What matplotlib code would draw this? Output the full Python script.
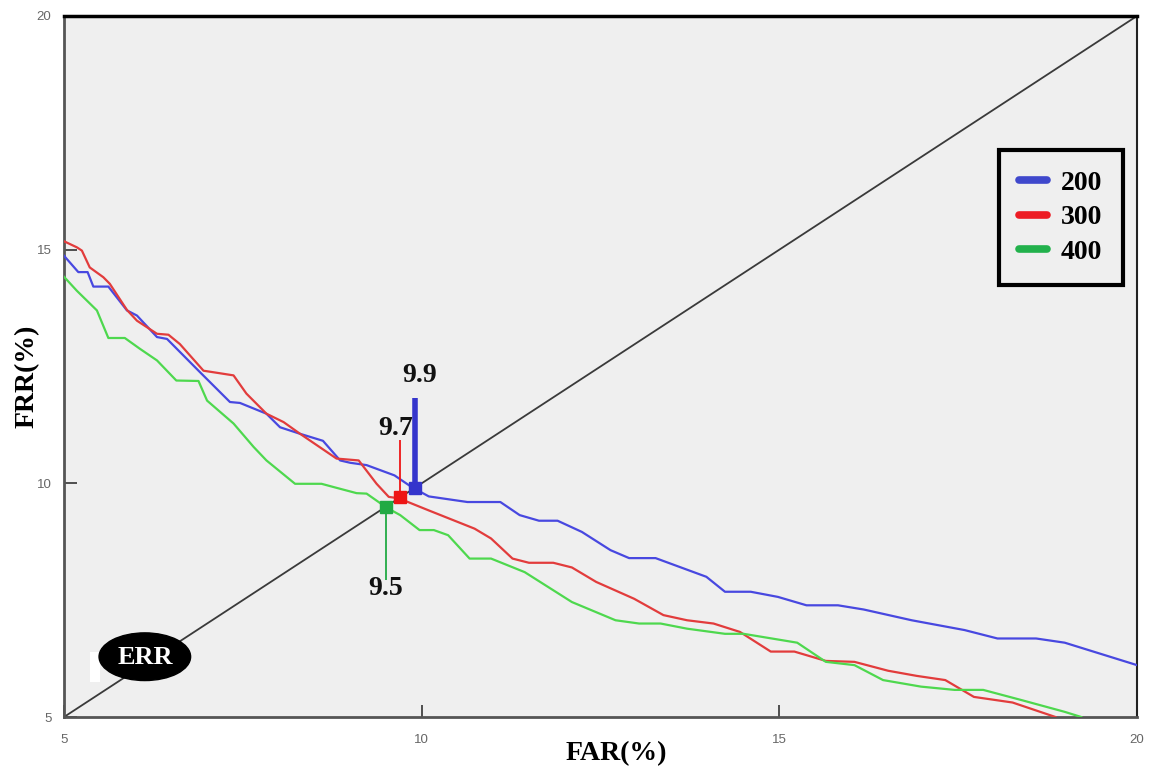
import matplotlib
matplotlib.use("Agg")
import matplotlib.pyplot as plt
from matplotlib.patches import Ellipse, Rectangle
from matplotlib.lines import Line2D

# ---- data ----
far_200 = [5.0, 5.08, 5.2, 5.33, 5.41, 5.62, 5.88, 6.02, 6.3, 6.44, 6.9, 7.32, 7.46, 7.83, 8.02, 8.3,
           8.62, 8.86, 9.0, 9.23, 9.62, 9.86, 10.1, 10.64, 11.1, 11.37, 11.64, 11.9, 12.24, 12.64,
           12.9, 13.27, 13.98, 14.24, 14.6, 14.98, 15.38, 15.82, 16.18, 16.85, 17.59, 18.05, 18.59,
           18.99, 20.0]
frr_200 = [14.87, 14.73, 14.52, 14.52, 14.21, 14.21, 13.7, 13.59, 13.13, 13.09, 12.38, 11.74, 11.72,
           11.49, 11.2, 11.06, 10.91, 10.49, 10.44, 10.39, 10.17, 9.92, 9.72, 9.6, 9.6, 9.32, 9.2,
           9.2, 8.96, 8.57, 8.4, 8.4, 8.0, 7.68, 7.68, 7.57, 7.39, 7.39, 7.3, 7.07, 6.86, 6.68,
           6.68, 6.59, 6.11]

far_300 = [5.0, 5.18, 5.25, 5.36, 5.55, 5.64, 5.88, 6.02, 6.3, 6.46, 6.62, 6.95, 7.37, 7.55, 7.83,
           8.07, 8.3, 8.81, 9.12, 9.37, 9.54, 9.68, 10.1, 10.74, 10.97, 11.27, 11.5, 11.84, 12.1,
           12.44, 12.97, 13.38, 13.71, 14.08, 14.45, 14.88, 15.21, 15.65, 16.05, 16.52, 16.92,
           17.32, 17.72, 18.26, 18.86]
frr_300 = [15.18, 15.05, 14.98, 14.62, 14.41, 14.27, 13.71, 13.48, 13.2, 13.18, 12.98, 12.41, 12.31,
           11.92, 11.49, 11.31, 11.06, 10.53, 10.49, 9.99, 9.71, 9.68, 9.42, 9.03, 8.82, 8.39, 8.3,
           8.3, 8.2, 7.89, 7.53, 7.18, 7.07, 7.0, 6.82, 6.4, 6.4, 6.2, 6.18, 5.99, 5.88, 5.79,
           5.43, 5.31, 5.0]

far_400 = [5.0, 5.18, 5.46, 5.62, 5.85, 6.06, 6.3, 6.57, 6.88, 7.0, 7.37, 7.65, 7.83, 8.23, 8.6,
           8.77, 9.09, 9.23, 9.51, 9.7, 9.97, 10.17, 10.37, 10.67, 10.97, 11.44, 12.1, 12.71,
           13.04, 13.34, 13.71, 14.24, 14.5, 15.25, 15.65, 16.05, 16.45, 16.98, 17.45, 17.85,
           18.39, 18.99, 19.22]
frr_400 = [14.42, 14.12, 13.7, 13.11, 13.11, 12.88, 12.63, 12.2, 12.19, 11.77, 11.28, 10.78, 10.49,
           9.99, 9.99, 9.92, 9.79, 9.78, 9.48, 9.32, 9.0, 9.0, 8.89, 8.39, 8.39, 8.1, 7.46, 7.07,
           7.0, 7.0, 6.89, 6.78, 6.78, 6.59, 6.18, 6.11, 5.79, 5.65, 5.58, 5.58, 5.36, 5.11, 5.0]

series_labels = ["200", "300", "400"]
eer_values = [9.9, 9.7, 9.5]
ticks = [5, 10, 15, 20]

# ---- style ----
line_colors = ["#4848e0", "#e23c3c", "#4ed84e"]
legend_colors = ["#3f48cc", "#ed1c24", "#22b14c"]
marker_colors = ["#3535cc", "#ee1515", "#22aa44"]
serif = ["Liberation Serif", "DejaVu Serif"]

fig = plt.figure(figsize=(11.49, 7.73), dpi=100)
ax = fig.add_axes([64/1149, 56/773, (1137-64)/1149, (717-16)/773])
ax.set_facecolor("#efefef")

ax.plot([5, 20], [5, 20], color="#3a3a3a", lw=1.3, zorder=2)

for xs, ys, c in zip([far_200, far_300, far_400], [frr_200, frr_300, frr_400], line_colors):
    ax.plot(xs, ys, color=c, lw=1.6, zorder=3, clip_on=True)

# EER markers and stems
stem_ends = [11.82, 10.92, 7.93]
stem_lw = [4.0, 1.3, 1.3]
label_pos = [(9.97, 12.31), (9.63, 11.18), (9.49, 7.76)]
for v, c, ye, lw, (lx, ly) in zip(eer_values, marker_colors, stem_ends, stem_lw, label_pos):
    ax.plot([v, v], [v, ye], color=c, lw=lw, zorder=4, solid_capstyle="butt")
    ax.plot([v], [v], marker="s", ms=8, color=c, zorder=5)
    ax.text(lx, ly, f"{v}", ha="center", va="center", fontsize=20, fontweight="bold",
            family=serif, color="#111111", zorder=6)

# ERR ellipse
ax.add_patch(Rectangle((5.36, 5.75), 0.14, 0.64, facecolor="white", edgecolor="none", zorder=4))
ax.add_patch(Ellipse((6.13, 6.29), 1.28, 1.02, facecolor="black", edgecolor="black", zorder=5))
ax.text(6.13, 6.27, "ERR", color="white", ha="center", va="center", fontsize=19,
        fontweight="bold", family=serif, zorder=6)

ax.set_xlim(5, 20)
ax.set_ylim(5, 20)
ax.set_xticks(ticks)
ax.set_yticks(ticks)
ax.tick_params(direction="in", length=9, width=1.2, color="#333333", labelsize=9.5,
               labelcolor="#666666")
ax.tick_params(axis="x", pad=12)
ax.tick_params(axis="y", pad=9)
for lab in ax.get_xticklabels() + ax.get_yticklabels():
    lab.set_family(["Liberation Sans", "DejaVu Sans"])

ax.spines["top"].set_linewidth(2.5)
ax.spines["top"].set_color("black")
ax.spines["left"].set_linewidth(2)
ax.spines["left"].set_color("#555555")
ax.spines["bottom"].set_linewidth(2)
ax.spines["bottom"].set_color("#555555")
ax.spines["right"].set_linewidth(1.5)
ax.spines["right"].set_color("#222222")

ax.set_xlabel("FAR(%)", fontsize=20, fontweight="bold", family=serif)
ax.set_ylabel("FRR(%)", fontsize=20, fontweight="bold", family=serif)
ax.xaxis.set_label_coords((616 - 64) / 1073, -(754 - 717) / 701)
ax.yaxis.set_label_coords((27 - 64) / 1073, (717 - 376) / 701)
ax.xaxis.label.set_va("center")
ax.yaxis.label.set_va("center")

handles = [Line2D([], [], color=c, lw=5.5, solid_capstyle="round") for c in legend_colors]
leg = ax.legend(handles, series_labels, loc="upper right", bbox_to_anchor=(0.987, 0.809),
                fancybox=False, framealpha=1, facecolor="#efefef", edgecolor="black",
                prop={"family": serif, "weight": "bold", "size": 20},
                handlelength=1.0, handletextpad=0.5, labelspacing=0.32,
                borderpad=0.74, borderaxespad=0)
leg.get_frame().set_linewidth(3)

fig.savefig("out.png", dpi=100, facecolor="white")
